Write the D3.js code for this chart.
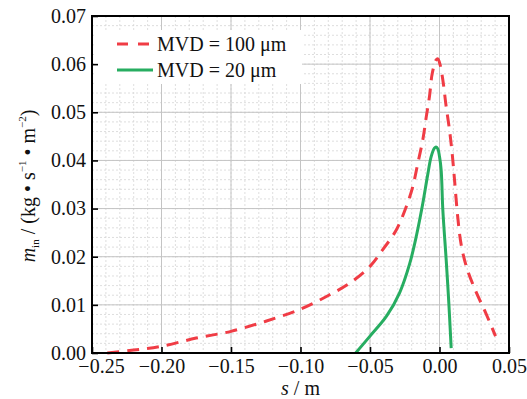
<!DOCTYPE html>
<html>
<head>
<meta charset="utf-8">
<script src="https://cdn.jsdelivr.net/npm/d3@7"></script>
<style>
  body { margin: 0; background: #fff; }
</style>
</head>
<body>
<svg id="chart" width="527" height="399"></svg>
<script>
// MVD = 100 um (red dashed)
const s100 = [-0.239, -0.220, -0.200, -0.175, -0.150, -0.125, -0.100, -0.079, -0.0646, -0.050,
  -0.0407, -0.031, -0.0239, -0.0192, -0.0156, -0.012, -0.0095, -0.0072, -0.0052, -0.0024,
  -0.0012, 0.0005, 0.0024, 0.0048, 0.0072, 0.0091, 0.0108, 0.0131, 0.0156, 0.0195,
  0.0263, 0.0330, 0.0403];
const m100 = [0.0000, 0.0006, 0.0014, 0.0031, 0.0045, 0.0066, 0.0091, 0.0121, 0.0145, 0.0180,
  0.0215, 0.0256, 0.0304, 0.0346, 0.0394, 0.0443, 0.0491, 0.0533, 0.0581, 0.0609,
  0.0611, 0.0598, 0.0567, 0.0512, 0.0463, 0.0415, 0.0360, 0.0283, 0.0225, 0.0178,
  0.0127, 0.0085, 0.0035];

// MVD = 20 um (green solid)
const s20 = [-0.0603, -0.050, -0.038, -0.0287, -0.0215, -0.0165, -0.012, -0.0085, -0.006,
  -0.0035, -0.0025, -0.0012, 0.0, 0.0012, 0.0024, 0.0048, 0.0067, 0.0084];
const m20 = [0.0000, 0.0035, 0.0077, 0.0125, 0.0185, 0.0245, 0.0311, 0.0370, 0.0408,
  0.0426, 0.0428, 0.0424, 0.0408, 0.0380, 0.0297, 0.0194, 0.0104, 0.0010];

const xTicks = [-0.25, -0.20, -0.15, -0.10, -0.05, 0.00, 0.05];
const yTicks = [0.00, 0.01, 0.02, 0.03, 0.04, 0.05, 0.06, 0.07];
const legendLabels = ["MVD = 100 μm", "MVD = 20 μm"];

const FONT = 'Liberation Serif';
const FS = 20;
const margin = { top: 16, right: 18, bottom: 46, left: 92 };
const W = 527, H = 399;
const width = W - margin.left - margin.right;
const height = H - margin.top - margin.bottom;

const svg = d3.select('#chart').attr('font-family', FONT);
const g = svg.append('g').attr('transform', `translate(${margin.left},${margin.top})`);

const x = d3.scaleLinear().domain([-0.25, 0.05]).range([0, width]);
const y = d3.scaleLinear().domain([0, 0.07]).range([height, 0]);

// minor grid (dotted)
const xMinor = d3.range(0, 31).map(i => -0.25 + i * 0.01);
const yMinor = d3.range(0, 36).map(i => i * 0.002);
g.append('g').selectAll('line').data(xMinor).enter().append('line')
  .attr('x1', d => x(d)).attr('x2', d => x(d)).attr('y1', 0).attr('y2', height)
  .attr('stroke', '#d6d6d6').attr('stroke-width', 0.8).attr('stroke-dasharray', '2,2');
g.append('g').selectAll('line').data(yMinor).enter().append('line')
  .attr('y1', d => y(d)).attr('y2', d => y(d)).attr('x1', 0).attr('x2', width)
  .attr('stroke', '#d6d6d6').attr('stroke-width', 0.8).attr('stroke-dasharray', '2,2');

// major grid
g.append('g').selectAll('line').data(xTicks).enter().append('line')
  .attr('x1', d => x(d)).attr('x2', d => x(d)).attr('y1', 0).attr('y2', height)
  .attr('stroke', '#c4c4c4').attr('stroke-width', 1);
g.append('g').selectAll('line').data(yTicks).enter().append('line')
  .attr('y1', d => y(d)).attr('y2', d => y(d)).attr('x1', 0).attr('x2', width)
  .attr('stroke', '#c4c4c4').attr('stroke-width', 1);

// legend background
g.append('rect').attr('x', 2).attr('y', 14).attr('width', 208).attr('height', 54).attr('fill', '#fff');

// axes with inward ticks
const xAxis = g.append('g')
  .attr('transform', `translate(0,${height})`)
  .call(d3.axisBottom(x).tickValues(xTicks)
    .tickSizeInner(-6).tickSizeOuter(0).tickPadding(6));
const yAxis = g.append('g')
  .call(d3.axisLeft(y).tickValues(yTicks)
    .tickSizeInner(-6).tickSizeOuter(0).tickPadding(6));

[xAxis, yAxis].forEach(a => {
  a.attr('font-family', FONT).attr('font-size', FS);
  a.select('.domain').remove();
  a.selectAll('.tick line').attr('stroke', '#000').attr('stroke-width', 1.6);
  a.selectAll('.tick text')
    .attr('fill', '#111')
    .text(d => d3.format('.2f')(d).replace('-', '−'));
});
// first label sits a bit to the right of its tick in the reference
xAxis.selectAll('.tick text').filter(d => d === -0.25).attr('dx', 9);

// lines
const line = d3.line().x(d => x(d[0])).y(d => y(d[1])).curve(d3.curveCatmullRom.alpha(0.5));
const d100 = s100.map((s, i) => [s, m100[i]]);
const d20 = s20.map((s, i) => [s, m20[i]]);

g.append('path').datum(d100)
  .attr('d', line).attr('fill', 'none')
  .attr('stroke', '#f03c45').attr('stroke-width', 3)
  .attr('stroke-dasharray', '12,8');
g.append('path').datum(d20)
  .attr('d', line).attr('fill', 'none')
  .attr('stroke', '#27ad61').attr('stroke-width', 3);

// frame
g.append('rect').attr('x', 0).attr('y', 0).attr('width', width).attr('height', height)
  .attr('fill', 'none').attr('stroke', '#000').attr('stroke-width', 2);

// legend
const legend = g.append('g').attr('transform', 'translate(25,28)');
legend.append('line').attr('x1', 0).attr('x2', 34).attr('y1', 0).attr('y2', 0)
  .attr('stroke', '#f03c45').attr('stroke-width', 3).attr('stroke-dasharray', '11,10');
legend.append('line').attr('x1', 0).attr('x2', 36).attr('y1', 26).attr('y2', 26)
  .attr('stroke', '#27ad61').attr('stroke-width', 3);
legend.selectAll('text').data(legendLabels).enter().append('text')
  .attr('x', 40).attr('y', (d, i) => i * 26 + 7)
  .attr('font-size', FS).attr('fill', '#111')
  .text(d => d);

// x title
svg.append('text')
  .attr('x', margin.left + width / 2).attr('y', 395)
  .attr('text-anchor', 'middle').attr('font-size', FS)
  .attr('fill', '#111')
  .call(t => {
    t.append('tspan').attr('font-style', 'italic').text('s');
    t.append('tspan').text(' / m');
  });

// y title
svg.append('text')
  .attr('transform', 'translate(35,186) rotate(-90)')
  .attr('text-anchor', 'middle').attr('font-size', FS)
  .attr('fill', '#111')
  .call(t => {
    t.append('tspan').attr('font-style', 'italic').text('m');
    t.append('tspan').attr('dy', 4).attr('font-size', 11).text('in');
    t.append('tspan').attr('dy', -4).text(' / (kg • s');
    t.append('tspan').attr('dy', -9).attr('font-size', 11).text('−1');
    t.append('tspan').attr('dy', 9).text(' • m');
    t.append('tspan').attr('dy', -9).attr('font-size', 11).text('−2');
    t.append('tspan').attr('dy', 9).text(')');
  });
</script>
</body>
</html>
